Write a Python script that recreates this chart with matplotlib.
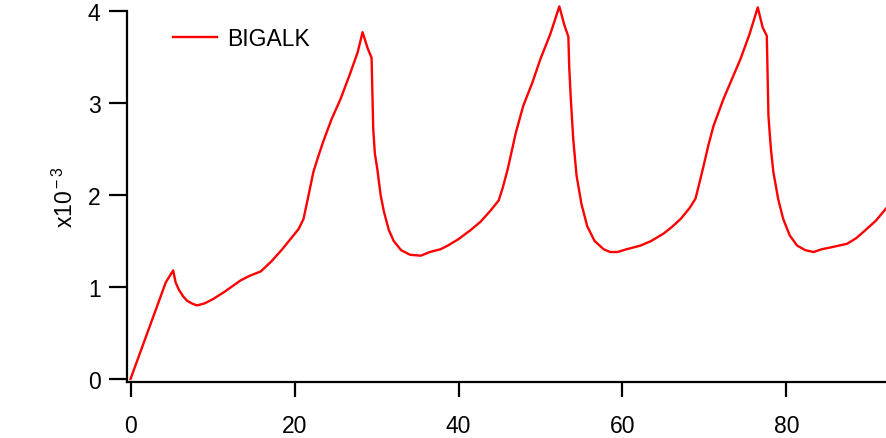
import matplotlib
matplotlib.use("Agg")
import matplotlib.pyplot as plt

plt.rcParams['font.family'] = ['Liberation Sans', 'DejaVu Sans']
plt.rcParams['mathtext.fontset'] = 'custom'
plt.rcParams['mathtext.rm'] = 'Liberation Sans'
plt.rcParams['mathtext.it'] = 'Liberation Sans:italic'

# BIGALK mixing ratio (x1e-3) versus time
t = [0, 4.3, 5.2, 5.5, 5.9, 6.4, 6.9, 7.5, 8.1, 9.0, 10.1, 11.5, 13.4, 14.5,
     15.9, 17.2, 18.5, 19.5, 20.5, 21.1, 21.6, 22.3, 22.9, 23.5, 24.5, 25.6,
     26.7, 27.7, 28.3, 28.9, 29.4, 29.5, 29.6, 29.8, 30.1, 30.5, 30.9, 31.5,
     32.1, 33.0, 34.1, 35.4, 36.5, 37.8, 38.7, 40.0, 41.5, 42.7, 43.9, 44.9,
     45.4, 46.0, 47.0, 47.9, 49.0, 50.0, 51.2, 52.3, 52.9, 53.4, 53.5, 53.7,
     54.0, 54.4, 55.0, 55.7, 56.6, 57.7, 58.5, 59.4, 60.5, 62.2, 63.5, 65.0,
     66.0, 67.1, 68.2, 68.9, 69.3, 69.9, 70.5, 71.1, 72.3, 73.3, 74.4, 75.5,
     76.5, 77.1, 77.6, 77.7, 77.8, 78.1, 78.4, 79.0, 79.6, 80.4, 81.3, 82.3,
     83.3, 84.3, 85.4, 87.4, 88.5, 89.4, 90.9, 92.3]
bigalk = [0, 1.05, 1.18, 1.05, 0.97, 0.90, 0.85, 0.82, 0.80, 0.82, 0.87, 0.95,
          1.07, 1.12, 1.17, 1.28, 1.41, 1.52, 1.63, 1.74, 1.95, 2.25, 2.42,
          2.58, 2.82, 3.04, 3.30, 3.55, 3.77, 3.60, 3.49, 3.10, 2.72, 2.45,
          2.28, 2.00, 1.82, 1.62, 1.50, 1.40, 1.35, 1.34, 1.38, 1.41, 1.45,
          1.52, 1.62, 1.71, 1.83, 1.94, 2.08, 2.28, 2.68, 2.97, 3.22, 3.48,
          3.75, 4.05, 3.85, 3.72, 3.40, 3.04, 2.60, 2.21, 1.90, 1.66, 1.50,
          1.41, 1.38, 1.38, 1.41, 1.45, 1.50, 1.58, 1.65, 1.74, 1.86, 1.96,
          2.10, 2.32, 2.55, 2.75, 3.04, 3.25, 3.48, 3.75, 4.04, 3.82, 3.73,
          3.30, 2.86, 2.50, 2.25, 1.95, 1.74, 1.56, 1.45, 1.40, 1.38, 1.41,
          1.43, 1.47, 1.53, 1.60, 1.72, 1.87]

xticks = [0, 20, 40, 60, 80]
yticks = [0, 1, 2, 3, 4]

fs = 16.5

fig = plt.figure(figsize=(8.87, 4.39), dpi=100)
ax = fig.add_axes([127 / 887, 56 / 439, 760 / 887, 371 / 439])

ax.plot(t, bigalk, color='#ff0000', lw=1.7, label='BIGALK', clip_on=False)

ax.set_xlim(-0.43, 92.26)
ax.set_ylim(-0.033, 4.0)
ax.set_xticks(xticks)
ax.set_yticks(yticks)

for side in ('top', 'right'):
    ax.spines[side].set_visible(False)
for side in ('left', 'bottom'):
    ax.spines[side].set_linewidth(1.6)

ax.tick_params(axis='x', direction='out', length=11, width=1.6, pad=12, labelsize=fs)
ax.tick_params(axis='y', direction='out', length=13, width=1.6, pad=6, labelsize=fs)

ax.set_ylabel(r'x10$^{\rm -3}$', fontsize=fs, labelpad=7)

# tick labels of the panel above, mostly outside the canvas
top = ax.secondary_xaxis('top')
top.set_xticks(xticks)
top.spines['top'].set_visible(False)
top.tick_params(length=0, pad=6, labelsize=fs)

ax.legend(loc='center left', bbox_to_anchor=(0.06, 0.925), frameon=False,
          fontsize=fs, handlelength=1.92, handletextpad=0.48,
          borderpad=0, borderaxespad=0)

fig.savefig('out.png', dpi=100)
